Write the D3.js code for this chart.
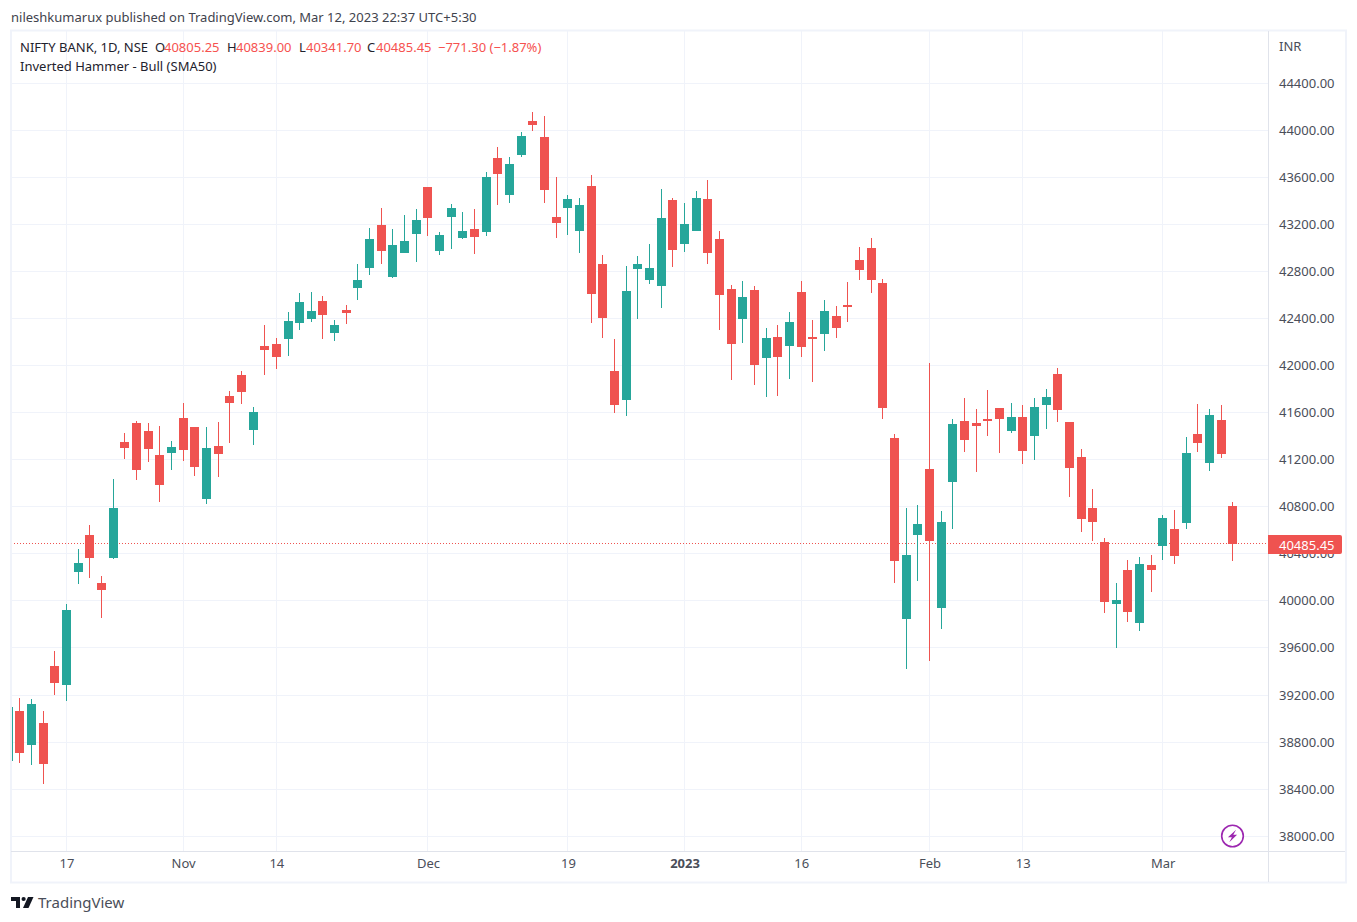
<!DOCTYPE html>
<html>
<head>
<meta charset="utf-8">
<title>NIFTY BANK, 1D</title>
<script src="https://cdn.jsdelivr.net/npm/d3@7"></script>
<style>
  html, body { margin: 0; padding: 0; background: #fff; }
  svg { display: block; }
  text { font-family: "Noto Sans", sans-serif; }
</style>
</head>
<body>
<div id="chart"></div>
<script>
// trading days, 10 Oct 2022 to 10 Mar 2023
const dates = [
  "2022-10-10","2022-10-11","2022-10-12","2022-10-13","2022-10-14","2022-10-17","2022-10-18","2022-10-19","2022-10-20","2022-10-21",
  "2022-10-24","2022-10-25","2022-10-27","2022-10-28","2022-10-31","2022-11-01","2022-11-02","2022-11-03","2022-11-04","2022-11-07",
  "2022-11-09","2022-11-10","2022-11-11","2022-11-14","2022-11-15","2022-11-16","2022-11-17","2022-11-18","2022-11-21","2022-11-22",
  "2022-11-23","2022-11-24","2022-11-25","2022-11-28","2022-11-29","2022-11-30","2022-12-01","2022-12-02","2022-12-05","2022-12-06",
  "2022-12-07","2022-12-08","2022-12-09","2022-12-12","2022-12-13","2022-12-14","2022-12-15","2022-12-16","2022-12-19","2022-12-20",
  "2022-12-21","2022-12-22","2022-12-23","2022-12-26","2022-12-27","2022-12-28","2022-12-29","2022-12-30","2023-01-02","2023-01-03",
  "2023-01-04","2023-01-05","2023-01-06","2023-01-09","2023-01-10","2023-01-11","2023-01-12","2023-01-13","2023-01-16","2023-01-17",
  "2023-01-18","2023-01-19","2023-01-20","2023-01-23","2023-01-24","2023-01-25","2023-01-27","2023-01-30","2023-01-31","2023-02-01",
  "2023-02-02","2023-02-03","2023-02-06","2023-02-07","2023-02-08","2023-02-09","2023-02-10","2023-02-13","2023-02-14","2023-02-15",
  "2023-02-16","2023-02-17","2023-02-20","2023-02-21","2023-02-22","2023-02-23","2023-02-24","2023-02-27","2023-02-28","2023-03-01",
  "2023-03-02","2023-03-03","2023-03-06","2023-03-08","2023-03-09","2023-03-10"
];

const opens = [
  38642,39067,38778,38965,39450,39288,40248,40563,40155,40367,
  41353,41514,41446,41243,41260,41557,41481,40869,41319,41744,
  41922,41455,42169,42186,42228,42364,42398,42551,42279,42475,
  42662,42832,43197,42755,42959,43121,43520,42976,43265,43087,
  43163,43138,43766,43452,43792,44081,43945,43265,43342,43146,
  43528,42866,41956,41710,42823,42730,42679,43410,43036,43146,
  43418,43078,42653,42398,42645,42067,42245,42169,42628,42245,
  42271,42424,42517,42900,43002,42704,41387,39849,40563,41124,
  39942,41013,41531,41514,41549,41642,41446,41566,41404,41668,
  41931,41523,41226,40792,40503,39976,40265,39815,40308,40469,
  40614,40665,41421,41175,41540,40805.25
];
const highs = [
  39130,39178,39169,39067,39577,39976,40444,40648,40214,41039,
  41430,41531,41514,41489,41362,41684,41481,41481,41523,41786,
  41956,41651,42347,42237,42458,42619,42628,42594,42390,42517,
  42866,43171,43342,43163,43282,43333,43520,43138,43376,43308,
  43333,43647,43860,43775,43987,44157,44123,43605,43452,43427,
  43622,42942,42228,42849,42934,43036,43503,43427,43384,43486,
  43579,43146,42687,42721,42679,42322,42347,42458,42721,42390,
  42560,42509,42713,43010,43087,42738,41421,40792,40818,42024,
  40767,41549,41727,41634,41795,41642,41684,41668,41727,41803,
  41982,41523,41294,40954,40537,40155,40350,40376,40393,40733,
  40775,41396,41676,41634,41668,40839
];
const lows = [
  38600,38625,38608,38447,39203,39152,40146,40197,39857,40359,
  41209,41030,41183,40843,41115,41192,41064,40826,41056,41345,
  41676,41328,41922,41973,42084,42305,42373,42228,42211,42356,
  42560,42772,42866,42747,42959,42883,43104,42942,42993,43078,
  42951,43104,43367,43384,43775,43996,43384,43087,43112,42959,
  42364,42237,41600,41574,42398,42696,42492,42840,42968,43146,
  42866,42305,41880,42194,41837,41735,41744,41888,42075,41863,
  42126,42237,42373,42730,42619,41549,40155,39424,40172,39492,
  39764,40614,41268,41098,41404,41260,41430,41166,41200,41464,
  41523,40886,40588,40512,39900,39603,39824,39747,40078,40350,
  40316,40614,41268,41107,41217,40341.7
];
const closes = [
  39101,38710,39127,38617,39305,39925,40325,40367,40095,40792,
  41302,41115,41294,40988,41311,41285,41141,41302,41251,41684,
  41778,41608,42135,42075,42381,42543,42466,42432,42347,42449,
  42730,43078,42976,43027,43061,43240,43257,43112,43342,43146,
  43095,43605,43630,43715,43953,44047,43494,43214,43418,43367,
  42611,42407,41668,42636,42866,42832,43257,42985,43206,43427,
  42959,42602,42186,42585,42007,42237,42075,42373,42160,42228,
  42466,42322,42500,42815,42730,41642,40342,40393,40656,40512,
  40673,41506,41370,41489,41531,41549,41566,41277,41651,41735,
  41625,41132,40699,40673,39993,40010,39909,40316,40265,40707,
  40384,41260,41345,41583,41251,40485.45
];

const priceTicks = [38000,38400,38800,39200,39600,40000,40400,40800,41200,41600,42000,42400,42800,43200,43600,44000,44400];
const timeTickDates = ["2022-10-17","2022-11-01","2022-11-14","2022-12-01","2022-12-19","2023-01-02","2023-01-16","2023-02-01","2023-02-13","2023-03-01"];
const timeTickLabels = ["17","Nov","14","Dec","19","2023","16","Feb","13","Mar"];

const headerText = "nileshkumarux published on TradingView.com, Mar 12, 2023 22:37 UTC+5:30";
const legendLine = [
  { t: "NIFTY BANK, 1D, NSE", x: 20, c: "dark" },
  { t: "O", x: 155, c: "dark" }, { t: "40805.25", x: 164, c: "up" },
  { t: "H", x: 227, c: "dark" }, { t: "40839.00", x: 236, c: "up" },
  { t: "L", x: 299, c: "dark" }, { t: "40341.70", x: 306, c: "up" },
  { t: "C", x: 367, c: "dark" }, { t: "40485.45", x: 376, c: "up" },
  { t: "\u2212771.30 (\u22121.87%)", x: 438, c: "up" }
];
const studyName = "Inverted Hammer - Bull (SMA50)";
const lastPrice = closes[closes.length - 1];

const UP = "#26a69a", DOWN = "#ef5350", GRID = "#f0f3fa", AXIS = "#e0e3eb", LABEL = "#4a4e59", INK = "#1e222d";

const width = 1357, height = 922;
const plot = { left: 11, top: 31, right: 1268, bottom: 851 };

const svg = d3.select("#chart").append("svg")
  .attr("width", width).attr("height", height);

const x = d3.scalePoint().domain(dates).range([8.1, 1232.7]);
const y = d3.scaleLinear().domain([44400, 38000]).range([83.43, 836.58]);

// tradingview snaps its grid a little above the price scale
const gridRow = p => Math.round(y(p) - 0.8) + 0.5;
const col = d => Math.floor(x(d));

svg.append("clipPath").attr("id", "plot-clip").append("rect")
  .attr("x", plot.left).attr("y", plot.top)
  .attr("width", plot.right - plot.left).attr("height", plot.bottom - plot.top);

// grid
const grid = svg.append("g");
grid.selectAll(".h").data(priceTicks).enter().append("line")
  .attr("x1", plot.left).attr("x2", plot.right)
  .attr("y1", gridRow).attr("y2", gridRow)
  .attr("stroke", GRID);
grid.selectAll(".v").data(timeTickDates).enter().append("line")
  .attr("x1", d => col(d) + 0.5).attr("x2", d => col(d) + 0.5)
  .attr("y1", plot.top).attr("y2", plot.bottom)
  .attr("stroke", GRID);

// last price line goes under the candles
svg.append("line")
  .attr("x1", plot.left).attr("x2", plot.right)
  .attr("y1", 543.5).attr("y2", 543.5)
  .attr("stroke", DOWN).attr("stroke-dasharray", "1 2");

// candles
const candles = svg.append("g").attr("clip-path", "url(#plot-clip)")
  .selectAll("g").data(dates).enter().append("g")
  .attr("fill", (d, i) => closes[i] >= opens[i] ? UP : DOWN);

candles.append("rect")
  .attr("x", d => col(d))
  .attr("width", 1)
  .attr("y", (d, i) => Math.round(y(highs[i])))
  .attr("height", (d, i) => Math.round(y(lows[i])) - Math.round(y(highs[i])));

candles.append("rect")
  .attr("x", d => col(d) - 4)
  .attr("width", 9)
  .attr("y", (d, i) => Math.round(y(Math.max(opens[i], closes[i]))))
  .attr("height", (d, i) => Math.round(y(Math.min(opens[i], closes[i]))) - Math.round(y(Math.max(opens[i], closes[i]))));

// price axis
const yAxis = d3.axisRight(y).tickValues(priceTicks).tickFormat(d3.format(".2f")).tickSize(0).tickPadding(11).offset(0);
const yG = svg.append("g").attr("transform", "translate(" + plot.right + ",0)").call(yAxis);
yG.select(".domain").remove();
yG.selectAll("text").attr("fill", LABEL).style("font-size", "13px").style("font-family", '"Noto Sans", sans-serif');

// time axis
const xAxis = d3.axisBottom(x).tickValues(timeTickDates)
  .tickFormat(d => timeTickLabels[timeTickDates.indexOf(d)]).tickSize(0).tickPadding(8).offset(0.5);
const xG = svg.append("g").attr("transform", "translate(0," + plot.bottom + ")").call(xAxis);
xG.select(".domain").remove();
xG.selectAll("text").attr("fill", LABEL).style("font-size", "13px").style("font-family", '"Noto Sans", sans-serif')
  .style("font-weight", d => d === "2023-01-02" ? 700 : 400);

// frame
const frame = svg.append("g").attr("fill", "none");
frame.append("rect").attr("x", 11).attr("y", 30.5).attr("width", 1335).attr("height", 852)
  .attr("stroke", GRID).attr("stroke-width", 2);
frame.append("line").attr("x1", 11).attr("x2", 1345).attr("y1", 851.5).attr("y2", 851.5).attr("stroke", AXIS);
frame.append("line").attr("x1", 1268.5).attr("x2", 1268.5).attr("y1", 31).attr("y2", 882).attr("stroke", AXIS);

// last price tag
svg.append("path")
  .attr("d", "M1268,535H1340a2,2 0 0 1 2,2V552a2,2 0 0 1 -2,2H1268Z")
  .attr("fill", DOWN);
svg.append("text").attr("x", 1279).attr("y", 549.5)
  .attr("fill", "#fff").style("font-size", "13px").text(d3.format(".2f")(lastPrice));

svg.append("text").attr("x", 1279).attr("y", 50.5)
  .attr("fill", LABEL).style("font-size", "13px").text("INR");

// header and legend
svg.append("text").attr("x", 11).attr("y", 21.5)
  .attr("fill", "#3f434d").style("font-size", "13px").text(headerText);

svg.selectAll(".legend").data(legendLine).enter().append("text")
  .attr("x", d => d.x).attr("y", 51.5)
  .attr("fill", d => d.c === "up" ? "#f6524f" : INK)
  .style("font-size", "13px").text(d => d.t);

svg.append("text").attr("x", 20).attr("y", 70.5)
  .attr("fill", INK).style("font-size", "13px").text(studyName);

// lightning badge
const badge = svg.append("g").attr("transform", "translate(1232.5,836)");
badge.append("circle").attr("r", 10.8).attr("fill", "#fff").attr("stroke", "#9c27b0").attr("stroke-width", 1.6);
badge.append("path").attr("d", "M3.6,-6.2L-4.6,1.2H-0.6L-3.2,6.2L4.6,-1.2H0.8Z").attr("fill", "#9c27b0");

// footer logo
const logo = svg.append("g").attr("fill", "#131722");
logo.append("path").attr("d", "M11,897H20V908H16V901H11Z");
logo.append("circle").attr("cx", 23.6).attr("cy", 899).attr("r", 2.1);
logo.append("path").attr("d", "M28,897H33.5L28.5,908H23Z");
svg.append("text").attr("x", 38).attr("y", 907.5)
  .attr("fill", "#4a4e59").style("font-size", "15px").text("TradingView");
</script>
</body>
</html>
